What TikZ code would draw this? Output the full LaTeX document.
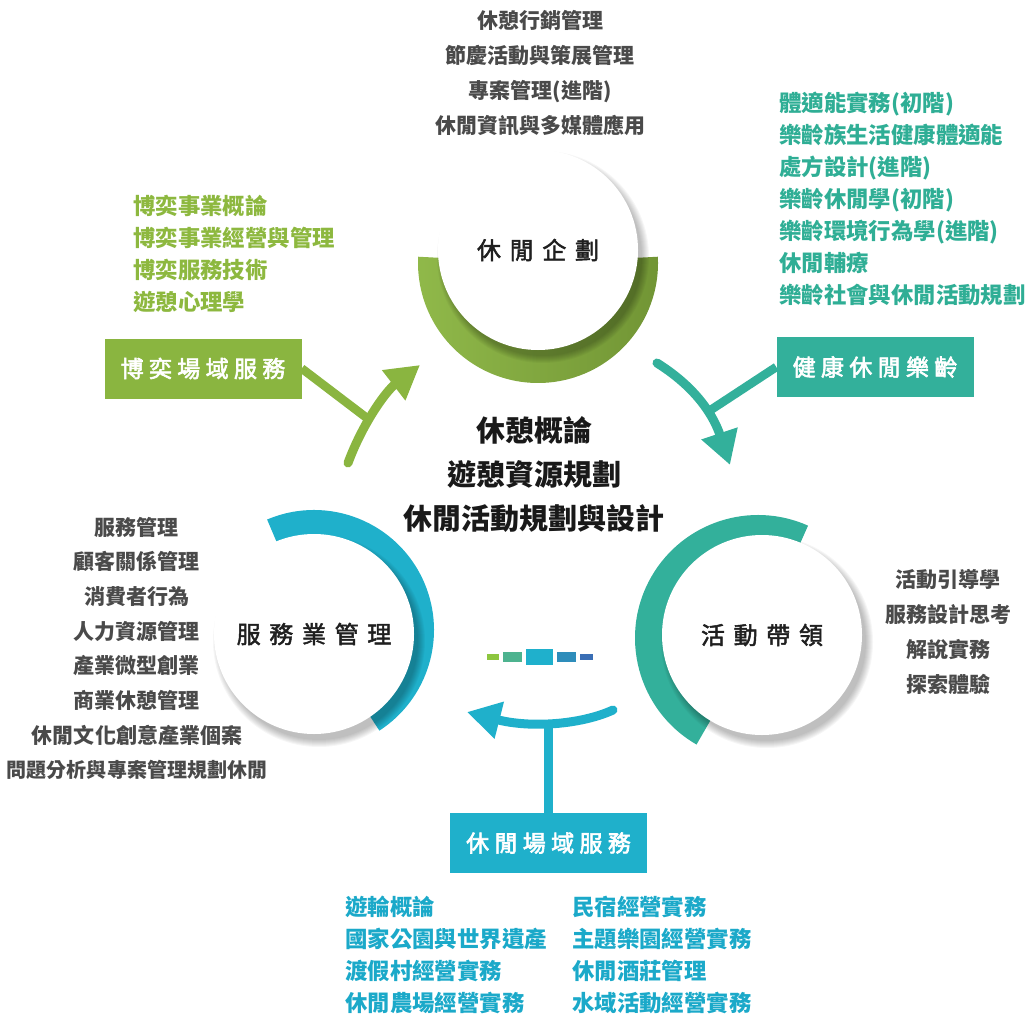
\documentclass[tikz,border=0pt]{standalone}
\usepackage{fontspec}
\setmainfont{Noto Sans CJK TC}
\newfontfamily\medfont[FakeBold=2]{Noto Sans CJK TC}
\newfontfamily\boxfont[FakeBold=2.6]{Noto Sans CJK TC}
\usetikzlibrary{arrows.meta,calc}
\definecolor{cgreen}{HTML}{8AB540}
\definecolor{cteal}{HTML}{33B09B}
\definecolor{cblue}{HTML}{1FB0CB}
\definecolor{cgray}{HTML}{4A4A4A}
\definecolor{tgreen}{HTML}{8DB83F}
\definecolor{tteal}{HTML}{2FAE95}
\definecolor{tblue}{HTML}{1BA9C9}
\definecolor{bar1}{HTML}{8DC63F}
\definecolor{bar2}{HTML}{4DB38F}
\definecolor{bar3}{HTML}{1FB0CC}
\definecolor{bar4}{HTML}{2E8DBB}
\definecolor{bar5}{HTML}{3A6EB5}
\newcommand{\cls}{\hspace{6.5pt}}
\newcommand{\bls}{\hspace{4pt}}
\begin{document}
\begin{tikzpicture}[x=0.75pt,y=-0.75pt,
  wcirc/.style={circle,fill=white,minimum size=150pt,inner sep=0pt,
    font=\medfont\fontsize{18}{20}\selectfont,text=black!88},
  labbox/.style={rectangle,minimum width=147.75pt,minimum height=45pt,inner sep=0pt,
    text=white,font=\boxfont\fontsize{17.25}{20}\selectfont},
  graylist/.style={align=center,inner sep=0pt,text=cgray,
    font=\fontsize{15.75}{26.2}\selectfont\bfseries},
  collist/.style={align=left,inner sep=0pt,anchor=west,
    font=\fontsize{16.8}{24}\selectfont\bfseries},
  ctext/.style={align=center,inner sep=0pt,text=black!90,
    font=\fontsize{21.75}{33}\selectfont\bfseries},
  curvarrow/.style={line width=6.75pt,line cap=round,
    -{Triangle[length=25pt,width=27pt]}},
  stem/.style={line width=6.5pt}
]
\useasboundingbox (0,0) rectangle (1027,1013);

% coloured rings
\shade[left color=cgreen!95!white,right color=cgreen!82!black] (538,263) -- ++(-3:120) arc[start angle=-3,end angle=183,radius=120] -- cycle;
\fill[cblue] (314,630) -- ++(-113:120) arc[start angle=-113,end angle=57,radius=120] -- cycle;
\fill[cteal] (758,638) -- ++(120:123) arc[start angle=120,end angle=294,radius=123] -- cycle;

% circle centres
\coordinate (cp) at (538,250);
\coordinate (cs) at (314,634);
\coordinate (ca) at (762,635);

% soft shadows
\foreach \n in {cp,cs,ca}{
  \foreach \i in {0,...,7}{
    \fill[black,fill opacity=0.035] ($(\n)+(5,7)$) circle[radius={99+\i*1.0}];
  }
}

% white circles
\node[wcirc] (plan) at (cp) {休\cls 閒\cls 企\cls 劃};
\node[wcirc] (serv) at (cs) {服\cls 務\cls 業\cls 管\cls 理};
\node[wcirc] (lead) at (ca) {活\cls 動\cls 帶\cls 領};

% small bars
\fill[bar1] (487,654) rectangle (499,660);
\fill[bar2] (503,652) rectangle (522,662);
\fill[bar3] (526,649) rectangle (553,665);
\fill[bar4] (557,652) rectangle (576,662);
\fill[bar5] (580,654) rectangle (593,660);

% label boxes
\node[labbox,fill=cgreen] (bxg) at (203,368.5) {博\bls 奕\bls 場\bls 域\bls 服\bls 務};
\node[labbox,fill=cteal] (bxt) at (875,367) {健\bls 康\bls 休\bls 閒\bls 樂\bls 齡};
\node[labbox,fill=cblue] (bxb) at (548.5,843) {休\bls 閒\bls 場\bls 域\bls 服\bls 務};

% arrows
\draw[curvarrow,cgreen] (348,463) .. controls (362,425) and (385,392) .. (420,365) coordinate[pos=0.4] (gj);
\draw[stem,cgreen] (bxg.east) -- (gj);

\draw[curvarrow,cteal] (657,363) .. controls (700,390) and (715,420) .. (730,465) coordinate[pos=0.55] (tj);
\draw[stem,cteal] (bxt.west) -- (tj);

\draw[curvarrow,cblue] (613,710) .. controls (580,725) and (530,728) .. (467,712) coordinate[pos=0.5] (bj);
\draw[stem,cblue] (bxb.north) -- (bxb.north |- bj);

% texts
\node[graylist] (ltop) at (540,73) {休憩行銷管理\\節慶活動與策展管理\\專案管理(進階)\\休閒資訊與多媒體應用};
\node[graylist,font=\fontsize{15.75}{26}\selectfont\bfseries] (lleft) at (137,648.5) {服務管理\\顧客關係管理\\消費者行為\\人力資源管理\\產業微型創業\\商業休憩管理\\休閒文化創意產業個案\\{\fontsize{15}{26}\selectfont 問題分析與專案管理規劃休閒}};
\node[graylist] (lright) at (948,632) {活動引導學\\服務設計思考\\解說實務\\探索體驗};

\node[collist,text=tgreen] (lgreen) at (133,253.5) {博奕事業概論\\博奕事業經營與管理\\博奕服務技術\\遊憩心理學};
\node[collist,text=tteal] (lteal) at (779,199) {體適能實務(初階)\\樂齡族生活健康體適能\\處方設計(進階)\\樂齡休閒學(初階)\\樂齡環境行為學(進階)\\休閒輔療\\樂齡社會與休閒活動規劃};
\node[collist,text=tblue] (lblue1) at (345,954.5) {遊輪概論\\國家公園與世界遺產\\渡假村經營實務\\休閒農場經營實務};
\node[collist,text=tblue] (lblue2) at (572,954.5) {民宿經營實務\\主題樂園經營實務\\休閒酒莊管理\\水域活動經營實務};

\node[ctext] (core) at (534,474) {休憩概論\\遊憩資源規劃\\休閒活動規劃與設計};
\end{tikzpicture}
\end{document}
